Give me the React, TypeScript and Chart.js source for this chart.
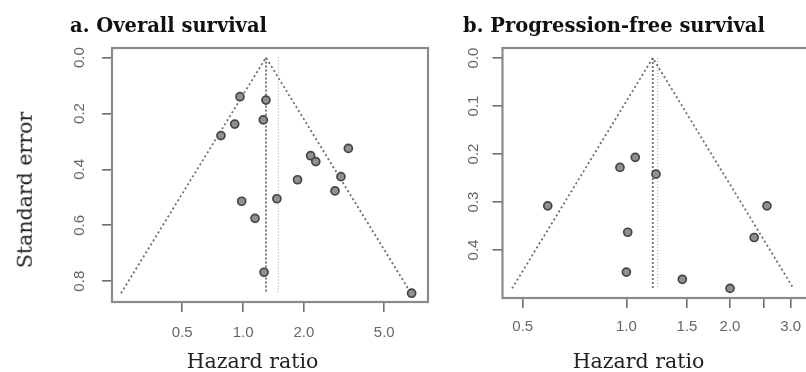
import React, { useEffect, useRef } from 'react';
import { Chart, registerables } from 'chart.js';

Chart.register(...registerables);

// ---------- a. Overall survival ----------
const osHazardRatio = [0.965, 1.298, 1.259, 0.909, 0.777, 3.32, 2.16, 2.29, 1.86, 3.05, 2.85, 1.47, 0.984, 1.146, 1.27, 6.83];
const osStdError = [0.140, 0.152, 0.223, 0.238, 0.279, 0.325, 0.351, 0.372, 0.437, 0.426, 0.477, 0.505, 0.514, 0.575, 0.768, 0.843];
const osFixedEstimate = 1.298;
const osRandomEstimate = 1.493;
const osXTicks = [0.5, 1.0, 2.0, 5.0];
const osXTickLabels = ['0.5', '1.0', '2.0', '5.0'];
const osYTicks = [0.0, 0.2, 0.4, 0.6, 0.8];

// ---------- b. Progression-free survival ----------
const pfsHazardRatio = [0.591, 0.958, 1.061, 1.219, 1.009, 1.0, 1.454, 2.0, 2.35, 2.56];
const pfsStdError = [0.308, 0.228, 0.207, 0.242, 0.363, 0.446, 0.461, 0.480, 0.374, 0.308];
const pfsFixedEstimate = 1.193;
const pfsRandomEstimate = 1.233;
const pfsXTicks = [0.5, 1.0, 1.5, 2.0, 2.5, 3.0];
const pfsXTickLabels = ['0.5', '1.0', '1.5', '2.0', '', '3.0'];
const pfsYTicks = [0.0, 0.1, 0.2, 0.3, 0.4];

const Z = 1.96;
const TICK_FONT = { family: "'Liberation Sans', Arial, sans-serif", size: 15 };
const TICK_COLOR = '#666666';
const LINE_GRAY = '#6e6e6e';

const framePlugin = {
  id: 'frameBox',
  afterDraw(chart: any) {
    const { ctx, chartArea } = chart;
    ctx.save();
    ctx.strokeStyle = '#8a8a8a';
    ctx.lineWidth = 2.2;
    ctx.strokeRect(chartArea.left, chartArea.top, chartArea.right - chartArea.left, chartArea.bottom - chartArea.top);
    ctx.restore();
  },
};

type PanelProps = {
  hr: number[];
  se: number[];
  fixed: number;
  random: number;
  xTicks: number[];
  xLabels: string[];
  yTicks: number[];
  xMin: number;
  xMax: number;
  yMin: number;
  yMax: number;
  width: number;
  height: number;
  padding: { left: number; right: number; top: number; bottom: number };
  xPad: number;
  yPad: number;
};

function FunnelPanel(p: PanelProps) {
  const ref = useRef<HTMLCanvasElement | null>(null);
  useEffect(() => {
    if (!ref.current) return;
    const seMax = Math.max(...p.se);
    const points = p.hr.map((h, i) => ({ x: h, y: p.se[i] }));
    const funnel = [
      { x: p.fixed * Math.exp(-Z * seMax), y: seMax },
      { x: p.fixed, y: 0 },
      { x: p.fixed * Math.exp(Z * seMax), y: seMax },
    ];
    const fixedLine = [
      { x: p.fixed, y: 0 },
      { x: p.fixed, y: seMax },
    ];
    const randomLine = [
      { x: p.random, y: 0 },
      { x: p.random, y: seMax },
    ];
    const chart = new Chart(ref.current, {
      type: 'scatter',
      data: {
        datasets: [
          {
            data: points,
            pointRadius: 4,
            pointBorderWidth: 1.7,
            pointBackgroundColor: '#909090',
            pointBorderColor: '#454545',
            showLine: false,
          },
          {
            data: funnel,
            showLine: true,
            pointRadius: 0,
            borderColor: LINE_GRAY,
            borderWidth: 1.8,
            borderDash: [2, 2.7],
            fill: false,
          },
          {
            data: fixedLine,
            showLine: true,
            pointRadius: 0,
            borderColor: LINE_GRAY,
            borderWidth: 1.8,
            borderDash: [2, 2],
            fill: false,
          },
          {
            data: randomLine,
            showLine: true,
            pointRadius: 0,
            borderColor: '#aaaaaa',
            borderWidth: 1.1,
            borderDash: [1, 2],
            fill: false,
          },
        ],
      } as any,
      options: {
        responsive: false,
        animation: false,
        devicePixelRatio: 1,
        events: [],
        layout: { padding: p.padding },
        plugins: { legend: { display: false }, tooltip: { enabled: false }, title: { display: false } },
        scales: {
          x: {
            type: 'logarithmic',
            min: p.xMin,
            max: p.xMax,
            afterBuildTicks: (s: any) => {
              s.ticks = p.xTicks.map((v) => ({ value: v }));
            },
            afterFit: (s: any) => {
              s.height = 40;
            },
            grid: { drawOnChartArea: false, drawTicks: true, tickLength: 10, color: LINE_GRAY, lineWidth: 1.6 },
            border: { display: false },
            ticks: {
              autoSkip: false,
              minRotation: 0,
              maxRotation: 0,
              padding: p.xPad,
              color: TICK_COLOR,
              font: TICK_FONT,
              callback: (_v: any, i: number) => p.xLabels[i],
            },
          },
          y: {
            type: 'linear',
            reverse: true,
            min: p.yMin,
            max: p.yMax,
            afterBuildTicks: (s: any) => {
              s.ticks = p.yTicks.map((v) => ({ value: v }));
            },
            afterFit: (s: any) => {
              s.width = 40;
            },
            grid: { drawOnChartArea: false, drawTicks: true, tickLength: 10, color: LINE_GRAY, lineWidth: 1.6 },
            border: { display: false },
            ticks: {
              autoSkip: false,
              minRotation: 90,
              maxRotation: 90,
              crossAlign: 'center',
              padding: p.yPad,
              color: TICK_COLOR,
              font: TICK_FONT,
              callback: (v: any) => Number(v).toFixed(1),
            },
          },
        },
      } as any,
      plugins: [framePlugin],
    });
    return () => chart.destroy();
  }, []);
  return <canvas ref={ref} width={p.width} height={p.height} style={{ display: 'block', width: p.width, height: p.height }} />;
}

const serif = "'DejaVu Serif', 'Liberation Serif', serif";
const titleStyle: React.CSSProperties = {
  position: 'absolute',
  top: 16,
  font: `bold 19.5px ${serif}`,
  lineHeight: '19.5px',
  whiteSpace: 'nowrap',
  color: '#111',
};
const axisTitleStyle: React.CSSProperties = {
  position: 'absolute',
  font: `20.5px ${serif}`,
  lineHeight: '20.5px',
  whiteSpace: 'nowrap',
  color: '#222',
};

export default function App() {
  return (
    <div style={{ position: 'absolute', left: 0, top: 0, width: 806, height: 372, overflow: 'hidden', background: '#ffffff' }}>
      <div style={{ position: 'absolute', left: 0, top: 0 }}>
        <FunnelPanel
          hr={osHazardRatio}
          se={osStdError}
          fixed={osFixedEstimate}
          random={osRandomEstimate}
          xTicks={osXTicks}
          xLabels={osXTickLabels}
          yTicks={osYTicks}
          xMin={0.2244}
          xMax={8.23}
          yMin={-0.0343}
          yMax={0.8744}
          width={440}
          height={372}
          padding={{ left: 72, right: 12, top: 48, bottom: 30 }}
          xPad={11.5}
          yPad={11.5}
        />
      </div>
      <div style={{ position: 'absolute', left: 440, top: 0 }}>
        <FunnelPanel
          hr={pfsHazardRatio}
          se={pfsStdError}
          fixed={pfsFixedEstimate}
          random={pfsRandomEstimate}
          xTicks={pfsXTicks}
          xLabels={pfsXTickLabels}
          yTicks={pfsYTicks}
          xMin={0.4367}
          xMax={3.369}
          yMin={-0.0208}
          yMax={0.5}
          width={380}
          height={372}
          padding={{ left: 22.5, right: 12, top: 48, bottom: 34 }}
          xPad={9.7}
          yPad={8}
        />
      </div>
      <div style={{ ...titleStyle, left: 70 }}>a. Overall survival</div>
      <div style={{ ...titleStyle, left: 463 }}>b. Progression-free survival</div>
      <div style={{ ...axisTitleStyle, left: 25, top: 190, transform: 'translate(-50%, -50%) rotate(-90deg)' }}>Standard error</div>
      <div style={{ ...axisTitleStyle, left: 252.5, top: 350.7, transform: 'translateX(-50%)' }}>Hazard ratio</div>
      <div style={{ ...axisTitleStyle, left: 638.5, top: 350.7, transform: 'translateX(-50%)' }}>Hazard ratio</div>
    </div>
  );
}
